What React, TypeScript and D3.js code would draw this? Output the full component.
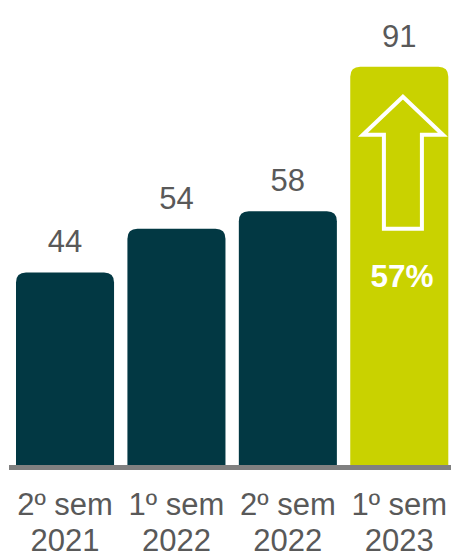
import React from "react";
import * as d3 from "d3";

const categories: string[][] = [
  ["2º sem", "2021"],
  ["1º sem", "2022"],
  ["2º sem", "2022"],
  ["1º sem", "2023"],
];
const values: number[] = [44, 54, 58, 91];
const highlightLabel = "57%";

const W = 451;
const H = 554;
const DARK = "#023843";
const GREEN = "#c9d200";
const GRAY_TEXT = "#595959";
const FONT = "'Liberation Sans', Arial, sans-serif";

function roundedTopBar(x: number, y: number, w: number, h: number, r: number) {
  const rr = Math.min(r, w / 2, h);
  return `M${x},${y + h}V${y + rr}Q${x},${y} ${x + rr},${y}H${x + w - rr}Q${x + w},${y} ${x + w},${y + rr}V${y + h}Z`;
}

export default function App() {
  const baseline = 465;
  const x = d3
    .scaleBand<number>()
    .domain(d3.range(values.length))
    .range([16, 448.3])
    .paddingInner(0.12)
    .paddingOuter(0);
  const y = d3.scaleLinear().domain([0, 91]).range([baseline, 66.7]);
  const bw = x.bandwidth();

  const last = values.length - 1;
  const lx = x(last)!;
  const cx = lx + bw * 0.537;
  const tipY = y(values[last]) + 30;
  const half = 40;
  const headY = tipY + 38;
  const shaftHalf = 19;
  const shaftBottom = headY + 94;
  const arrowPts = [
    [cx, tipY],
    [cx + half, headY],
    [cx + shaftHalf, headY],
    [cx + shaftHalf, shaftBottom],
    [cx - shaftHalf, shaftBottom],
    [cx - shaftHalf, headY],
    [cx - half, headY],
  ];

  return (
    <svg
      width={W}
      height={H}
      style={{ position: "absolute", left: 0, top: 0, background: "#fff" }}
      fontFamily={FONT}
    >
      {values.map((v, i) => {
        const bx = x(i)!;
        const by = y(v);
        return (
          <g key={i}>
            <path
              d={roundedTopBar(bx, by, bw, baseline - by, 10)}
              fill={i === last ? GREEN : DARK}
            />
            <text
              x={bx + bw / 2}
              y={by - 20}
              textAnchor="middle"
              fontSize={31}
              fill={GRAY_TEXT}
            >
              {v}
            </text>
            <text
              x={bx + bw / 2}
              y={515}
              textAnchor="middle"
              fontSize={31}
              fill={GRAY_TEXT}
            >
              {categories[i][0]}
            </text>
            <text
              x={bx + bw / 2}
              y={551}
              textAnchor="middle"
              fontSize={31}
              fill={GRAY_TEXT}
            >
              {categories[i][1]}
            </text>
          </g>
        );
      })}
      <polygon
        points={arrowPts.map((p) => p.join(",")).join(" ")}
        fill={GREEN}
        stroke="#fff"
        strokeWidth={4}
        strokeLinejoin="miter"
      />
      <text
        x={cx - 1}
        y={287}
        textAnchor="middle"
        fontSize={31.5}
        fontWeight="bold"
        fill="#fff"
      >
        {highlightLabel}
      </text>
      <line x1={9} x2={451} y1={467.5} y2={467.5} stroke="#808080" strokeWidth={5} />
    </svg>
  );
}
